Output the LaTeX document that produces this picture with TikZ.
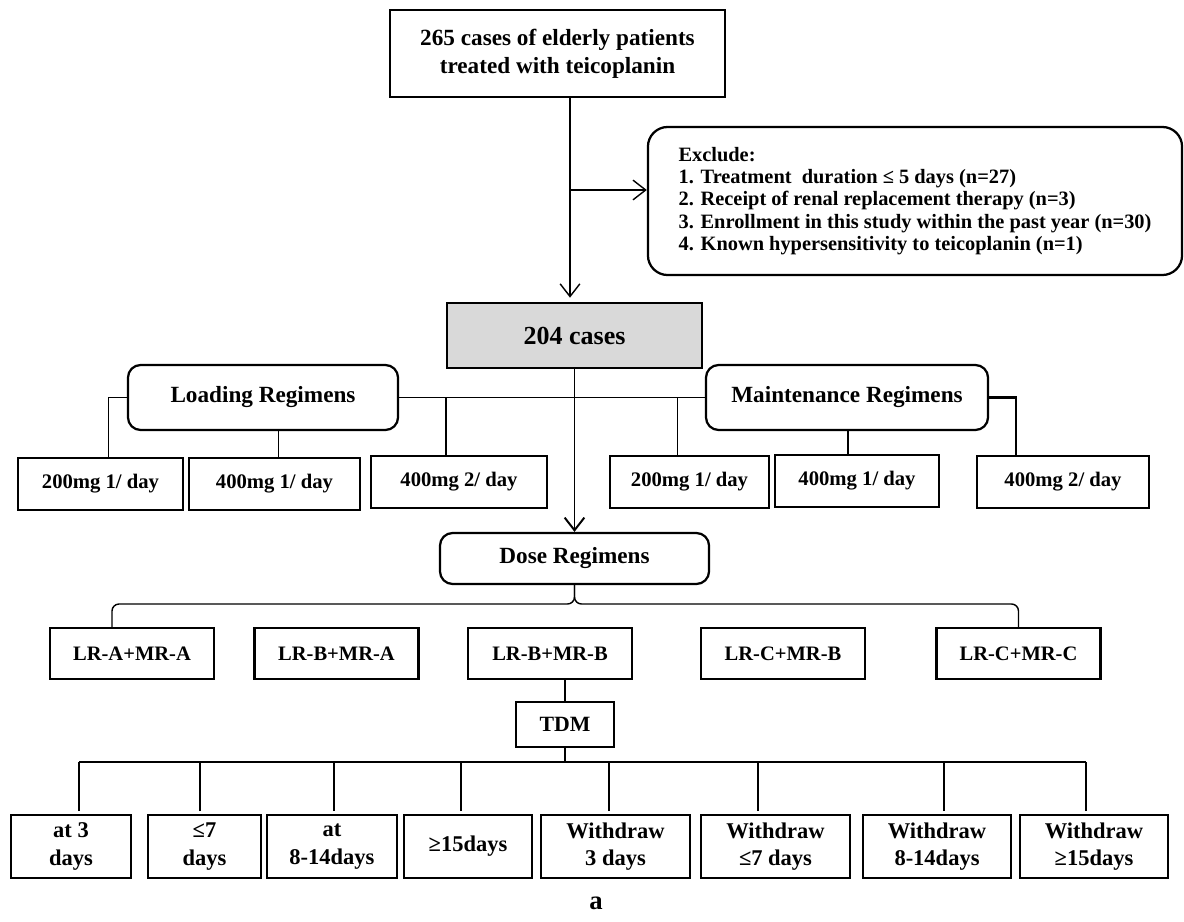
\documentclass[tikz,border=0pt]{standalone}
\usepackage{fontspec}
\setmainfont{Liberation Serif}
\usetikzlibrary{arrows.meta}
\definecolor{casegray}{RGB}{217,217,217}

\begin{document}
\begin{tikzpicture}[x=0.025cm, y=-0.025cm,
		box/.style={draw, line width=1.6pt, inner sep=2pt, align=center},
		rbox/.style={box, rounded corners=9pt},
		mgbox/.style={box, minimum height=1.3cm, font=\bfseries\fontsize{14.7}{17}\selectfont},
		lrbox/.style={box, minimum width=4.1cm, minimum height=1.275cm, font=\bfseries\fontsize{14.6}{17}\selectfont},
		daybox/.style={box, minimum height=1.575cm, font=\bfseries\fontsize{16}{19.5}\selectfont},
		headfont/.style={font=\bfseries\fontsize{16.5}{20}\selectfont},
		link/.style={line width=1pt},
		arr/.style={link, -{Straight Barb[length=9pt, width=14pt]}}]
	\useasboundingbox (0, 0) rectangle (1184, 921);
	
	\node[box, headfont, minimum width=8.375cm, minimum height=2.175cm] (all) at (557.5, 53.5) {265 cases of elderly patients\\treated with teicoplanin};
	\node[rbox, rounded corners=14pt, align=left, minimum width=13.35cm, minimum height=3.7cm, font=\bfseries\fontsize{14.5}{15.8}\selectfont] (excl) at (915, 201) {Exclude:\\1. Treatment~ duration ≤ 5 days (n=27)\\2. Receipt of renal replacement therapy (n=3)\\3. Enrollment in this study within the past year (n=30)\\4. Known hypersensitivity to teicoplanin (n=1)};
	\node[box, fill=casegray, minimum width=6.375cm, minimum height=1.625cm, font=\bfseries\fontsize{18.5}{22}\selectfont] (cases) at (574.5, 335.5) {204 cases};
	
	\node[rbox, headfont, minimum width=6.75cm, minimum height=1.625cm] (load) at (263, 397.5) {Loading Regimens};
	\node[rbox, headfont, minimum width=7.05cm, minimum height=1.625cm] (maint) at (847, 397.5) {Maintenance Regimens};
	
	\node[mgbox, minimum width=4.125cm] (L1) at (100.5, 484) {200mg 1/ day};
	\node[mgbox, minimum width=4.275cm] (L2) at (274.5, 484) {400mg 1/ day};
	\node[mgbox, minimum width=4.4cm] (L3) at (459, 482) {400mg 2/ day};
	\node[mgbox, minimum width=3.975cm] (M1) at (689.5, 482) {200mg 1/ day};
	\node[mgbox, minimum width=4.1cm] (M2) at (857, 481) {400mg 1/ day};
	\node[mgbox, minimum width=4.3cm] (M3) at (1063, 482) {400mg 2/ day};
	
	\node[rbox, headfont, minimum width=6.725cm, minimum height=1.275cm] (dose) at (574.5, 558.5) {Dose Regimens};
	
	\foreach \x/\t [count=\i] in {132/LR-A+MR-A, 336.5/LR-B+MR-A, 550/LR-B+MR-B, 783/LR-C+MR-B, 1018.5/LR-C+MR-C}
		\node[lrbox] (r\i) at (\x, 653.5) {\t};
	
	\node[box, minimum width=2.45cm, minimum height=1.125cm, font=\bfseries\fontsize{15.5}{18}\selectfont] (tdm) at (565, 724.5) {TDM};
	
	\foreach \x/\w/\t [count=\i] in {71/3.0/{at 3\\days}, 204.5/2.825/{≤7\\days}, 332/3.25/{at\\8-14days}, 468/3.2/{≥15days}, 615.5/3.725/{Withdraw\\3 days}, 775.5/3.725/{Withdraw\\≤7 days}, 937/3.7/{Withdraw\\8-14days}, 1094/3.7/{Withdraw\\≥15days}}
		\node[daybox, minimum width=\w cm] (b\i) at (\x, 846.5) {\t};
	
	\node[font=\bfseries\fontsize{19}{22}\selectfont] (tag) at (596, 903) {a};
	
	\coordinate (fork) at (570, 190);
	\draw[link] (all.south -| fork) -- (fork);
	\draw[arr, shorten >=3pt] (fork) -- (cases.north -| fork);
	\draw[arr] (fork) -- (excl.west |- fork);
	\draw[arr, line width=1.4pt] (cases.south) -- (dose.north);
	
	\draw[link] (load.west) -| ([xshift=0.2cm]L1.north);
	\draw[link] (load.east) -- (maint.west);
	\draw[link] ([xshift=0.1cm]L2.north) -- ([xshift=0.1cm]L2.north |- load.south);
	\draw[link] ([xshift=-0.325cm]L3.north) -- ([xshift=-0.325cm]L3.north |- load.east);
	\draw[link] ([xshift=-0.3cm]M1.north) -- ([xshift=-0.3cm]M1.north |- maint.west);
	\draw[link] ([xshift=-0.225cm]M2.north) -- ([xshift=-0.225cm]M2.north |- maint.south);
	\draw[link, line width=1.6pt] (maint.east) -| ([xshift=1cm]M3.north west);
	
	\coordinate (notch) at (574.5, 604);
	\draw[link, rounded corners=5pt] (dose.south) -- (notch) -| ([xshift=-0.5cm]r1.north);
	\draw[link, rounded corners=5pt] (dose.south) -- (notch) -| (r5.north);
	
	\coordinate (bus) at (565, 762);
	\draw[line width=1.6pt] (tdm.north) -- (tdm.north |- r3.south);
	\draw[line width=1.6pt] (tdm.south) -- (bus);
	\foreach \s [count=\i] in {0.2, -0.1125, 0.05, -0.175, -0.1625, -0.4375, 0.175, -0.2}
		\draw[link, shorten <=2pt] ([xshift=\s cm]b\i.north) -- ([xshift=\s cm]b\i.north |- bus);
	\draw[line width=1.3pt] ([xshift=0.2cm]b1.north |- bus) -- ([xshift=-0.2cm]b8.north |- bus);
\end{tikzpicture}
\end{document}
